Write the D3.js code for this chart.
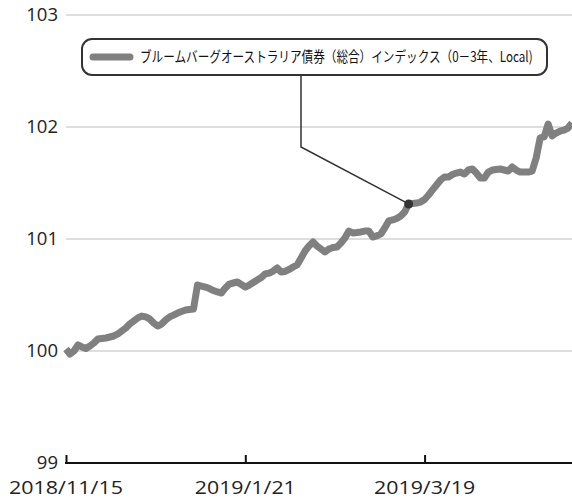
<!DOCTYPE html>
<html><head><meta charset="utf-8">
<script src="https://cdn.jsdelivr.net/npm/d3@7"></script>
<style>
html,body{margin:0;padding:0;background:#fff;}
svg{display:block;}
</style></head>
<body>
<svg id="chart" width="572" height="498"></svg>
<script>
const seriesName = "ブルームバーグオーストラリア債券（総合）インデックス（0－3年、Local)";
const values = [
100.018,99.973,100.000,100.054,100.036,100.022,100.045,100.071,100.107,100.112,
100.116,100.125,100.134,100.152,100.179,100.205,100.241,100.268,100.295,100.312,
100.304,100.286,100.250,100.223,100.241,100.277,100.304,100.321,100.339,100.353,
100.366,100.371,100.375,100.589,100.580,100.571,100.558,100.540,100.527,100.518,
100.563,100.598,100.607,100.616,100.594,100.571,100.589,100.612,100.634,100.656,
100.688,100.696,100.714,100.741,100.705,100.710,100.728,100.750,100.768,100.830,
100.893,100.938,100.973,100.938,100.911,100.884,100.911,100.924,100.929,100.964,
101.009,101.071,101.054,101.058,101.063,101.071,101.071,101.018,101.027,101.045,
101.098,101.161,101.170,101.183,101.205,101.241,101.313,101.317,101.321,101.330,
101.353,101.393,101.438,101.482,101.527,101.554,101.554,101.576,101.589,101.598,
101.580,101.616,101.625,101.589,101.545,101.545,101.598,101.616,101.621,101.625,
101.616,101.607,101.643,101.616,101.598,101.598,101.598,101.607,101.723,101.902,
101.911,102.027,101.920,101.946,101.964,101.973,101.991,102.036
];
const xTickIndex = [0, 45, 90];
const xTickLabels = ["2018/11/15", "2019/1/21", "2019/3/19"];
const yTicks = [99, 100, 101, 102, 103];
const markerIndex = 86;

const svg = d3.select("#chart");
const x = d3.scaleLinear().domain([0, values.length - 1]).range([66, 572]);
const y = d3.scaleLinear().domain([99, 103]).range([463, 15]);
const numFont = "'Open Sans', 'Noto Sans CJK JP', sans-serif";

// gridlines
svg.append("g").selectAll("line").data(yTicks.filter(d => d > 99)).join("line")
  .attr("x1", 66).attr("x2", 572)
  .attr("y1", d => y(d)).attr("y2", d => y(d))
  .attr("stroke", "#bdbdbd").attr("stroke-width", 1);

// y labels
svg.append("g").selectAll("text").data(yTicks).join("text")
  .attr("x", 58).attr("y", d => y(d)).attr("dy", "0.35em")
  .attr("text-anchor", "end")
  .attr("font-family", numFont).attr("font-size", 18.5).attr("fill", "#222")
  .text(d => d);

// x axis
const xAxis = d3.axisTop(x).tickValues(xTickIndex).tickSize(8)
  .tickFormat(() => "");
const gx = svg.append("g").attr("transform", "translate(0,463)").call(xAxis);
gx.select(".domain").remove();
gx.selectAll(".tick line").attr("stroke", "#111").attr("stroke-width", 2);
svg.append("line").attr("x1", x(0) - 1).attr("x2", 572).attr("y1", 463).attr("y2", 463)
  .attr("stroke", "#111").attr("stroke-width", 2);
svg.append("g").selectAll("text").data(xTickIndex).join("text")
  .attr("x", d => x(d)).attr("y", 494)
  .attr("text-anchor", "middle")
  .attr("font-family", numFont).attr("font-size", 18).attr("fill", "#222")
  .attr("textLength", (d, i) => xTickLabels[i].length > 9 ? 114 : 101)
  .attr("lengthAdjust", "spacingAndGlyphs")
  .text((d, i) => xTickLabels[i]);

// series line
const line = d3.line().x((d, i) => x(i)).y(d => y(d));
svg.append("path").datum(values)
  .attr("d", line)
  .attr("fill", "none").attr("stroke", "#808080").attr("stroke-width", 7)
  .attr("stroke-linejoin", "round").attr("stroke-linecap", "butt");

// legend box
svg.append("rect").attr("x", 82).attr("y", 39).attr("width", 465).attr("height", 36)
  .attr("rx", 10).attr("ry", 10)
  .attr("fill", "#fff").attr("stroke", "#333").attr("stroke-width", 2);
svg.append("line").attr("x1", 93).attr("x2", 130).attr("y1", 57).attr("y2", 57)
  .attr("stroke", "#808080").attr("stroke-width", 7).attr("stroke-linecap", "round");
const legText = svg.append("text").attr("x", 0).attr("y", 0).attr("dy", "0.36em")
  .attr("font-family", "'Noto Sans CJK JP', sans-serif").attr("font-size", 14.5).attr("fill", "#111")
  .text(seriesName);
const natW = legText.node().getComputedTextLength() || 393;
legText.attr("transform", `translate(140,57) scale(${393 / natW},1)`);

// leader line and marker
const mx = x(markerIndex), my = y(values[markerIndex]);
svg.append("path")
  .attr("d", `M301,75 L301,147 L${mx},${my}`)
  .attr("fill", "none").attr("stroke", "#333").attr("stroke-width", 1.5);
svg.append("circle").attr("cx", mx).attr("cy", my).attr("r", 4.5).attr("fill", "#333");
</script>
</body></html>
